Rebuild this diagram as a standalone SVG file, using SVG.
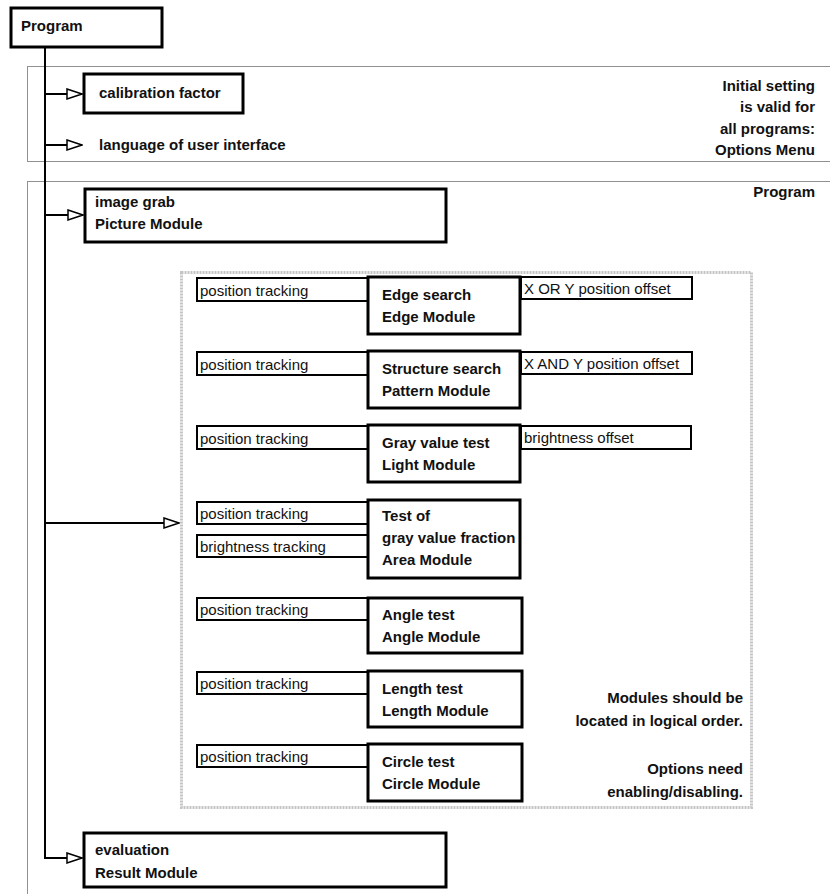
<svg xmlns="http://www.w3.org/2000/svg" width="830" height="894" viewBox="0 0 830 894">
<style>
.b{font-family:"Liberation Sans",Arial,sans-serif;font-weight:bold;font-size:15px;fill:#111}
.r{font-family:"Liberation Sans",Arial,sans-serif;font-size:15px;fill:#111}
.e{text-anchor:end}
.box{fill:#fff;stroke:#000;stroke-width:3}
.opt{fill:#fff;stroke:#000;stroke-width:2}
.dot{fill:none;stroke:#222;stroke-width:1;stroke-dasharray:1 1}
.gray{fill:none;stroke:#c4c4c4;stroke-width:3;stroke-dasharray:2 1}
.con{fill:none;stroke:#000;stroke-width:2}
</style>
<defs>
<marker id="ah" markerUnits="userSpaceOnUse" markerWidth="17" markerHeight="12" refX="16" refY="6" orient="auto">
<path d="M1,1 L16,6 L1,11 Z" fill="#fff" stroke="#000" stroke-width="1.5"/>
</marker>
</defs>
<rect width="830" height="894" fill="#fff"/>
<g id="areas">
<rect class="dot" x="27.5" y="66.5" width="840" height="95"/>
<rect class="dot" x="27.5" y="181.5" width="840" height="760"/>
<rect class="gray" x="181.5" y="272.5" width="570" height="535"/>
</g>
<g id="connectors">
<path class="con" d="M45,47 V858 H82" marker-end="url(#ah)"/>
<path class="con" d="M45,94 H82" marker-end="url(#ah)"/>
<path class="con" d="M45,145 H82" marker-end="url(#ah)"/>
<path class="con" d="M45,215 H83" marker-end="url(#ah)"/>
<path class="con" d="M45,523 H179" marker-end="url(#ah)"/>
</g>
<g id="program"><rect class="box" x="11" y="8" width="151" height="39"/><text class="b" x="21" y="31">Program</text></g>
<g id="calibration"><rect class="box" x="84" y="74" width="159" height="39"/><text class="b" x="99" y="98">calibration factor</text></g>
<g id="language"><text class="b" x="99" y="150">language of user interface</text></g>
<g id="note-options"><text class="b e" x="815" y="91">Initial setting</text><text class="b e" x="815" y="112">is valid for</text><text class="b e" x="815" y="134">all programs:</text><text class="b e" x="815" y="155">Options Menu</text></g>
<g id="note-program"><text class="b e" x="815" y="197">Program</text></g>
<g id="imagegrab"><rect class="box" x="85" y="189" width="361" height="53"/><text class="b" x="95" y="207">image grab</text><text class="b" x="95" y="229">Picture Module</text></g>
<g id="edge">
<rect class="opt" x="197" y="278" width="171" height="23"/><text class="r" x="200" y="296">position tracking</text>
<rect class="opt" x="521" y="277" width="171" height="22"/><text class="r" x="524" y="294">X OR Y position offset</text>
<rect class="box" x="368" y="277" width="152" height="57"/><text class="b" x="382" y="300">Edge search</text><text class="b" x="382" y="322">Edge Module</text>
</g>
<g id="structure">
<rect class="opt" x="197" y="352" width="171" height="23"/><text class="r" x="200" y="370">position tracking</text>
<rect class="opt" x="521" y="352" width="171" height="22"/><text class="r" x="524" y="369">X AND Y position offset</text>
<rect class="box" x="368" y="351" width="152" height="57"/><text class="b" x="382" y="374">Structure search</text><text class="b" x="382" y="396">Pattern Module</text>
</g>
<g id="gray">
<rect class="opt" x="197" y="426" width="171" height="23"/><text class="r" x="200" y="444">position tracking</text>
<rect class="opt" x="521" y="426" width="170" height="23"/><text class="r" x="524" y="443">brightness offset</text>
<rect class="box" x="368" y="425" width="152" height="57"/><text class="b" x="382" y="448">Gray value test</text><text class="b" x="382" y="470">Light Module</text>
</g>
<g id="area">
<rect class="opt" x="197" y="502" width="171" height="22"/><text class="r" x="200" y="519">position tracking</text>
<rect class="opt" x="197" y="535" width="171" height="22"/><text class="r" x="200" y="552">brightness tracking</text>
<rect class="box" x="368" y="500" width="152" height="78"/><text class="b" x="382" y="521">Test of</text><text class="b" x="382" y="543">gray value fraction</text><text class="b" x="382" y="565">Area Module</text>
</g>
<g id="angle">
<rect class="opt" x="197" y="598" width="171" height="22"/><text class="r" x="200" y="615">position tracking</text>
<rect class="box" x="368" y="598" width="154" height="55"/><text class="b" x="382" y="620">Angle test</text><text class="b" x="382" y="642">Angle Module</text>
</g>
<g id="length">
<rect class="opt" x="197" y="672" width="171" height="22"/><text class="r" x="200" y="689">position tracking</text>
<rect class="box" x="368" y="671" width="154" height="56"/><text class="b" x="382" y="694">Length test</text><text class="b" x="382" y="716">Length Module</text>
</g>
<g id="circle">
<rect class="opt" x="197" y="745" width="171" height="22"/><text class="r" x="200" y="762">position tracking</text>
<rect class="box" x="368" y="744" width="154" height="57"/><text class="b" x="382" y="767">Circle test</text><text class="b" x="382" y="789">Circle Module</text>
</g>
<g id="note-modules"><text class="b e" x="743" y="703">Modules should be</text><text class="b e" x="743" y="726">located in logical order.</text><text class="b e" x="743" y="774">Options need</text><text class="b e" x="743" y="797">enabling/disabling.</text></g>
<g id="evaluation"><rect class="box" x="84" y="833" width="362" height="54"/><text class="b" x="95" y="855">evaluation</text><text class="b" x="95" y="878">Result Module</text></g>
</svg>
